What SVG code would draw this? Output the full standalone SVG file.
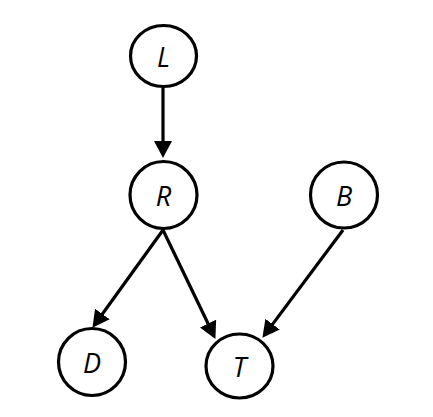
<svg xmlns="http://www.w3.org/2000/svg" width="433" height="417" viewBox="0 0 433 417">
<style>
.node ellipse{fill:#fff;stroke:#000;stroke-width:3.2}
.node text{font-family:"Open Sans","Liberation Sans",Arial,sans-serif;font-style:italic;font-size:27px;fill:#000;text-anchor:middle;dominant-baseline:central}
.edge{stroke:#000;stroke-width:3.2;fill:none;marker-end:url(#arr)}
</style>
<defs>
<marker id="arr" markerUnits="userSpaceOnUse" markerWidth="17" markerHeight="18" refX="8" refY="9" orient="auto" viewBox="0 0 17 18">
<path d="M0,0 L17,9 L0,18 z" fill="#000"/>
</marker>
</defs>
<rect width="433" height="417" fill="#fff"/>
<g id="connectors">
<line class="edge" x1="163" y1="87" x2="163" y2="149"/>
<line class="edge" x1="163" y1="230" x2="97.7" y2="320.5"/>
<line class="edge" x1="163" y1="230" x2="211.5" y2="330.8"/>
<line class="edge" x1="343" y1="230" x2="267.8" y2="330.6"/>
</g>
<g id="L" class="node"><ellipse cx="163.5" cy="56" rx="33" ry="30.5"/><text x="163.5" y="56">L</text></g>
<g id="R" class="node"><ellipse cx="163.5" cy="195" rx="33.5" ry="33.5"/><text x="163.5" y="195">R</text></g>
<g id="B" class="node"><ellipse cx="344" cy="195" rx="33.5" ry="33"/><text x="344" y="195">B</text></g>
<g id="D" class="node"><ellipse cx="92" cy="362" rx="33.5" ry="33.5"/><text x="92" y="362">D</text></g>
<g id="T" class="node"><ellipse cx="239.5" cy="366" rx="33.5" ry="32"/><text x="239.5" y="366">T</text></g>
</svg>
